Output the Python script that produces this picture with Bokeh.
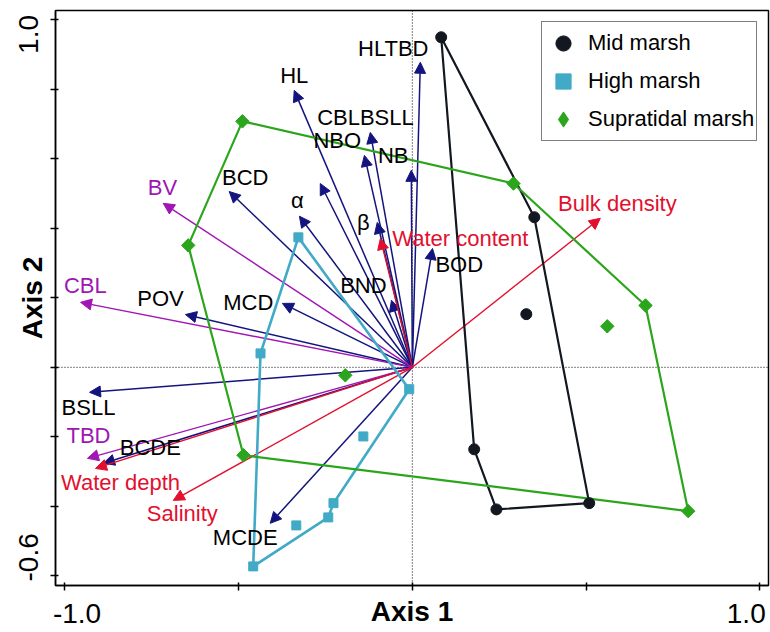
import numpy as np
from bokeh.plotting import figure
from bokeh.models import (ColumnDataSource, Range1d, FixedTicker, Arrow, NormalHead,
                          Span, Legend, LegendItem, LinearAxis)
from bokeh.core.properties import value
from bokeh.embed import file_html
from bokeh.resources import INLINE

FONT = "Liberation Sans"

# ---- site scores -------------------------------------------------------
mid_x = [0.083, 0.351, 0.328, 0.178, 0.242, 0.509]
mid_y = [0.950, 0.432, 0.153, -0.236, -0.409, -0.391]
mid_hull = [0, 1, 5, 4, 3, 0]

high_x = [-0.328, -0.437, -0.009, -0.141, -0.227, -0.242, -0.334, -0.458]
high_y = [0.374, 0.040, -0.063, -0.199, -0.391, -0.432, -0.455, -0.573]
high_hull = [0, 2, 4, 5, 7, 1, 0]

sup_x = [-0.489, 0.291, 0.671, 0.561, 0.794, -0.193, -0.486, -0.645]
sup_y = [0.708, 0.529, 0.178, 0.118, -0.414, -0.023, -0.253, 0.351]
sup_hull = [0, 1, 2, 4, 6, 7, 0]

# ---- variable vectors --------------------------------------------------
navy_names = ["HLTBD", "HL", "CBLBSLL", "NBO", "NB", "", "BCD", "α", "β", "BOD",
              "BND", "MCD", "POV", "BSLL", "BCDE", "MCDE"]
navy_x = [0.023, -0.340, -0.121, -0.138, -0.003, -0.265, -0.527, -0.325, -0.101, 0.058,
          -0.060, -0.374, -0.653, -0.929, -0.889, -0.409]
navy_y = [0.878, 0.797, 0.676, 0.610, 0.567, 0.529, 0.506, 0.435, 0.417, 0.342,
          0.193, 0.184, 0.152, -0.072, -0.276, -0.449]
navy_lx = [-0.055, -0.340, -0.135, -0.216, -0.055, 0.0, -0.481, -0.331, -0.141, 0.135,
           -0.141, -0.472, -0.725, -0.932, -0.754, -0.481]
navy_ly = [0.918, 0.840, 0.719, 0.653, 0.610, 0.0, 0.547, 0.481, 0.417, 0.296,
           0.236, 0.187, 0.199, -0.115, -0.230, -0.489]

purple_names = ["BV", "CBL", "TBD"]
purple_x = [-0.717, -0.955, -0.935]
purple_y = [0.472, 0.187, -0.262]
purple_lx = [-0.719, -0.941, -0.932]
purple_ly = [0.518, 0.236, -0.196]

red_names = ["Bulk density", "Water content", "Water depth", "Salinity"]
red_x = [0.541, -0.092, -0.912, -0.688]
red_y = [0.429, 0.371, -0.291, -0.383]
red_lx = [0.590, 0.138, -0.840, -0.662]
red_ly = [0.472, 0.371, -0.331, -0.420]

x_ticks = [-1.0, -0.5, 0.0, 0.5, 1.0]
y_ticks = [-0.6, -0.4, -0.2, 0.0, 0.2, 0.4, 0.6, 0.8, 1.0]
# printed tick labels (R draws them pulled inside the plot extent)
x_label_pos = [-0.965, 0.961]
x_label_txt = ["-1.0", "1.0"]
y_label_pos = [0.958, -0.547]
y_label_txt = ["1.0", "-0.6"]

C_MID = "#131820"
C_HIGH = "#41AAC6"
C_SUP = "#2BA61C"
C_NAVY = "#14147E"
C_PURPLE = "#A015B4"
C_RED = "#E2102E"

p = figure(width=770, height=632, output_backend="svg", toolbar_location=None,
           x_range=Range1d(-1.027, 1.025), y_range=Range1d(-0.628, 1.027),
           min_border_left=55, min_border_right=2, min_border_top=10, min_border_bottom=47)
p.background_fill_color = "white"
p.border_fill_color = "white"
p.grid.visible = False
p.outline_line_color = "black"
p.outline_line_width = 1.5

for ax, ticks in ((p.xaxis[0], x_ticks), (p.yaxis[0], y_ticks)):
    ax.ticker = FixedTicker(ticks=ticks)
    ax.major_label_overrides = {t: "" for t in ticks}
    ax.major_label_text_font_size = "1px"
    ax.major_label_standoff = 0
    ax.minor_tick_line_color = None
    ax.major_tick_in = 3
    ax.major_tick_out = 5
    ax.major_tick_line_width = 1.5
    ax.axis_line_width = 1.5
    ax.axis_line_color = "black"
    ax.major_tick_line_color = "black"

# second axes carrying the printed labels and titles
def label_axis(pos, txt, title, orient, standoff, title_standoff):
    ax = LinearAxis(ticker=FixedTicker(ticks=pos),
                    major_label_overrides=dict(zip(pos, txt)),
                    axis_line_color=None, major_tick_line_color=None,
                    minor_tick_line_color=None, major_tick_in=0, major_tick_out=0,
                    major_label_standoff=standoff, major_label_text_font=FONT,
                    major_label_text_font_size="28px", major_label_text_color="black",
                    major_label_orientation=orient,
                    axis_label=title, axis_label_text_font=FONT,
                    axis_label_text_font_size="28px", axis_label_text_font_style="bold",
                    axis_label_text_color="black", axis_label_standoff=title_standoff)
    return ax

p.add_layout(label_axis(x_label_pos, x_label_txt, "Axis 1", "horizontal", 13, -30), "below")
p.add_layout(label_axis(y_label_pos, y_label_txt, "Axis 2", "vertical", 12, -31), "left")

# zero lines
p.add_layout(Span(location=0, dimension="height", line_color="black", line_width=1,
                  line_dash="1 2", level="underlay"))
p.add_layout(Span(location=0, dimension="width", line_color="black", line_width=1,
                  line_dash="1 2", level="underlay"))

# arrows
def add_arrows(xs, ys, color, width):
    src = ColumnDataSource(dict(x0=[0.0] * len(xs), y0=[0.0] * len(xs), x1=xs, y1=ys))
    head = NormalHead(size=11, fill_color=color, line_color=color, line_width=1)
    p.add_layout(Arrow(end=head, x_start="x0", y_start="y0", x_end="x1", y_end="y1",
                       source=src, line_color=color, line_width=width, level="underlay"))

add_arrows(navy_x, navy_y, C_NAVY, 1.5)
add_arrows(purple_x, purple_y, C_PURPLE, 1.4)
add_arrows(red_x, red_y, C_RED, 1.4)

# hulls
p.line([mid_x[i] for i in mid_hull], [mid_y[i] for i in mid_hull], line_color=C_MID, line_width=2.2)
p.line([high_x[i] for i in high_hull], [high_y[i] for i in high_hull], line_color=C_HIGH, line_width=2.6)
p.line([sup_x[i] for i in sup_hull], [sup_y[i] for i in sup_hull], line_color=C_SUP, line_width=2.2)

# points
r_mid = p.scatter(mid_x, mid_y, marker="circle", size=11, fill_color=C_MID, line_color=C_MID)
r_high = p.scatter(high_x, high_y, marker="square", size=9, fill_color=C_HIGH, line_color=C_HIGH)
r_sup = p.scatter(sup_x, sup_y, marker="diamond", size=12, fill_color=C_SUP, line_color=C_SUP)
p.scatter(sup_x, sup_y, marker="square", size=9.5, angle=np.pi / 4, fill_color=C_SUP, line_color=C_SUP)

# vector labels
def add_labels(names, lx, ly, color):
    keep = [i for i, n in enumerate(names) if n]
    src = ColumnDataSource(dict(x=[lx[i] for i in keep], y=[ly[i] for i in keep],
                                t=[names[i] for i in keep]))
    p.text(x="x", y="y", text="t", source=src, text_font=value(FONT), text_font_size="22px",
           text_align="center", text_baseline="middle", text_color=color)

add_labels(navy_names, navy_lx, navy_ly, "black")
add_labels(purple_names, purple_lx, purple_ly, C_PURPLE)
add_labels(red_names, red_lx, red_ly, C_RED)

legend = Legend(items=[LegendItem(label="Mid marsh", renderers=[r_mid]),
                       LegendItem(label="High marsh", renderers=[r_high]),
                       LegendItem(label="Supratidal marsh", renderers=[r_sup])],
                location=(486, 444))
legend.label_text_font = FONT
legend.label_text_font_size = "22px"
legend.label_text_color = "black"
legend.glyph_width = 38
legend.glyph_height = 38
legend.label_height = 38
legend.label_width = 166
legend.spacing = 0
legend.padding = 2
legend.margin = 0
legend.label_standoff = 6
legend.border_line_color = "black"
legend.border_line_width = 1.5
legend.background_fill_color = "white"
legend.background_fill_alpha = 1.0
p.add_layout(legend)

open("out.html", "w").write(file_html(p, INLINE))
